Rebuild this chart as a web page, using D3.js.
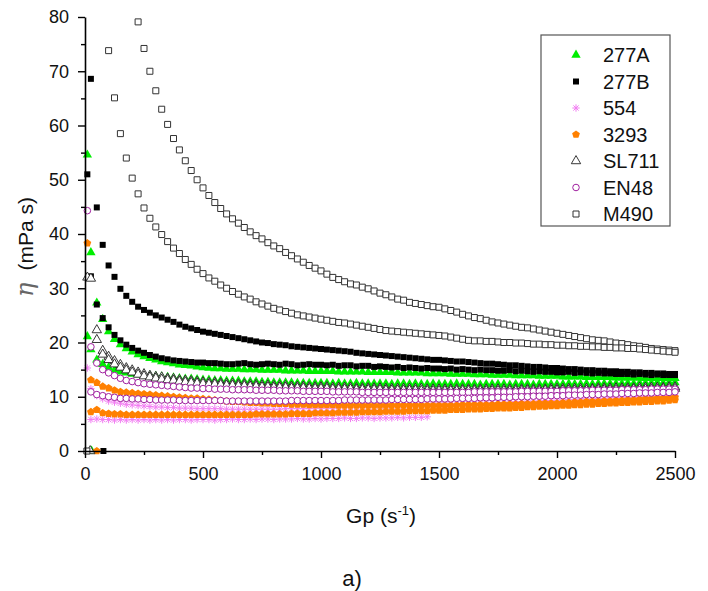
<!DOCTYPE html>
<html>
<head>
<meta charset="utf-8">
<script src="https://cdn.jsdelivr.net/npm/d3@7/dist/d3.min.js"></script>
<style>
  body { margin: 0; background: #fff; }
  svg { font-family: "Liberation Sans", Arial, sans-serif; }
</style>
</head>
<body>
<svg id="chart" width="708" height="591"></svg>
<script>
// shear rate grid Gp (s^-1), shared by every run
const gp = [10,
  25, 50, 75, 100, 125, 150, 175, 200, 225, 250,
  275, 300, 325, 350, 375, 400, 425, 450, 475, 500,
  525, 550, 575, 600, 625, 650, 675, 700, 725, 750,
  775, 800, 825, 850, 875, 900, 925, 950, 975, 1000,
  1025, 1050, 1075, 1100, 1125, 1150, 1175, 1200, 1225, 1250,
  1275, 1300, 1325, 1350, 1375, 1400, 1425, 1450, 1475, 1500,
  1525, 1550, 1575, 1600, 1625, 1650, 1675, 1700, 1725, 1750,
  1775, 1800, 1825, 1850, 1875, 1900, 1925, 1950, 1975, 2000,
  2025, 2050, 2075, 2100, 2125, 2150, 2175, 2200, 2225, 2250,
  2275, 2300, 2325, 2350, 2375, 2400, 2425, 2450, 2475, 2500];

// viscosity eta (mPa s), two runs per sample
const eta277A_1 = [54.6,
  36.6, 27.3, 24.3, 22.0, 20.6, 19.6, 18.9, 18.3, 17.8, 17.4,
  17.1, 16.8, 16.5, 16.3, 16.1, 15.9, 15.8, 15.7, 15.5, 15.4,
  15.3, 15.2, 15.2, 15.1, 15.1, 15.1, 15.0, 15.0, 15.0, 14.9,
  14.9, 14.9, 14.9, 14.8, 14.8, 14.8, 14.8, 14.7, 14.7, 14.7,
  14.7, 14.7, 14.6, 14.6, 14.6, 14.6, 14.6, 14.5, 14.5, 14.5,
  14.5, 14.5, 14.4, 14.4, 14.4, 14.4, 14.4, 14.3, 14.3, 14.3,
  14.3, 14.2, 14.2, 14.2, 14.2, 14.1, 14.1, 14.1, 14.0, 14.0,
  14.0, 14.0, 13.9, 13.9, 13.9, 13.9, 13.8, 13.8, 13.8, 13.8,
  13.7, 13.7, 13.7, 13.7, 13.6, 13.6, 13.6, 13.6, 13.6, 13.5,
  13.5, 13.5, 13.5, 13.5, 13.4, 13.4, 13.4, 13.4, 13.4, 13.4];
const eta277A_2 = [21.1,
  18.7, 16.8, 16.0, 15.4, 14.9, 14.6, 14.4, 14.2, 14.1, 14.0,
  13.9, 13.8, 13.7, 13.6, 13.5, 13.4, 13.3, 13.3, 13.2, 13.1,
  13.1, 13.0, 13.0, 12.9, 12.9, 12.9, 12.8, 12.8, 12.8, 12.7,
  12.7, 12.6, 12.6, 12.6, 12.6, 12.5, 12.5, 12.5, 12.5, 12.5,
  12.5, 12.4, 12.5, 12.4, 12.4, 12.5, 12.4, 12.4, 12.4, 12.4,
  12.4, 12.3, 12.4, 12.4, 12.3, 12.4, 12.3, 12.3, 12.4, 12.3,
  12.3, 12.3, 12.4, 12.3, 12.3, 12.3, 12.2, 12.3, 12.3, 12.3,
  12.3, 12.2, 12.3, 12.3, 12.3, 12.2, 12.3, 12.3, 12.3, 12.3,
  12.3, 12.4, 12.3, 12.3, 12.4, 12.3, 12.4, 12.4, 12.4, 12.4,
  12.4, 12.5, 12.4, 12.5, 12.5, 12.5, 12.6, 12.5, 12.6, 12.6];

const eta277B_1 = [null,
  68.6, 44.9, 38.0, 34.2, 32.1, 29.9, 28.6, 27.5, 26.6, 26.0,
  25.5, 25.0, 24.6, 24.2, 23.8, 23.3, 22.9, 22.6, 22.3, 22.0,
  21.8, 21.6, 21.4, 21.2, 21.0, 20.8, 20.6, 20.4, 20.2, 20.0,
  19.9, 19.7, 19.6, 19.5, 19.3, 19.2, 19.1, 19.0, 18.9, 18.8,
  18.7, 18.6, 18.5, 18.4, 18.3, 18.1, 18.0, 17.9, 17.8, 17.7,
  17.6, 17.5, 17.4, 17.3, 17.2, 17.1, 17.0, 16.9, 16.8, 16.8,
  16.7, 16.6, 16.5, 16.5, 16.4, 16.3, 16.2, 16.1, 16.1, 16.0,
  15.9, 15.8, 15.8, 15.7, 15.6, 15.5, 15.5, 15.4, 15.3, 15.3,
  15.2, 15.1, 15.1, 15.0, 14.9, 14.9, 14.8, 14.8, 14.7, 14.7,
  14.6, 14.6, 14.5, 14.5, 14.4, 14.4, 14.3, 14.3, 14.2, 14.2];
const eta277B_2 = [51.0,
  32.2, 27.0, 24.5, 22.8, 21.4, 20.4, 19.6, 19.0, 18.5, 18.1,
  17.7, 17.4, 17.1, 16.9, 16.7, 16.6, 16.5, 16.4, 16.3, 16.3,
  16.2, 16.2, 16.1, 16.0, 16.0, 16.1, 16.2, 16.0, 15.9, 16.0,
  16.1, 16.0, 15.9, 16.1, 16.0, 15.8, 15.9, 16.0, 15.9, 15.9,
  15.8, 15.9, 15.7, 15.8, 15.8, 15.6, 15.7, 15.7, 15.5, 15.6,
  15.5, 15.4, 15.5, 15.3, 15.4, 15.3, 15.2, 15.3, 15.2, 15.2,
  15.1, 15.2, 15.0, 15.1, 15.0, 14.9, 15.0, 14.9, 14.9, 14.8,
  14.8, 14.9, 14.7, 14.8, 14.7, 14.6, 14.7, 14.6, 14.6, 14.5,
  14.5, 14.6, 14.4, 14.5, 14.4, 14.3, 14.4, 14.3, 14.3, 14.2,
  14.2, 14.2, 14.1, 14.2, 14.1, 14.0, 14.1, 14.0, 14.0, 14.0];

const eta554_1 = [15.3,
  11.5, 10.2, 9.6, 9.2, 9.0, 8.8, 8.6, 8.5, 8.4, 8.3,
  8.2, 8.1, 8.1, 8.0, 8.0, 7.9, 7.9, 7.9, 7.8, 7.8,
  7.8, 7.8, 7.8, 7.7, 7.7, 7.7, 7.7, 7.7, 7.7, 7.7,
  7.7, 7.7, 7.7, 7.8, 7.8, 7.8, 7.8, 7.8, 7.9, 7.9,
  7.9, 7.9, 8.0, 8.0, 8.0, 8.0, 8.1, 8.1, 8.1, 8.2,
  8.2, 8.2, 8.3, 8.3, 8.3, 8.4, 8.4, 8.4, 8.5, 8.5,
  8.5, 8.6, 8.6, 8.7, 8.7, 8.7, 8.8, 8.8, 8.9, 8.9,
  9.0, 9.0, 9.1, 9.1, 9.2, 9.2, 9.2, 9.3, 9.3, 9.4,
  9.4, 9.5, 9.5, 9.6, 9.6, 9.6, 9.7, 9.7, 9.8, 9.8,
  9.9, 9.9, 9.9, 10.0, 10.0, 10.1, 10.1, 10.1, 10.2, 10.2];
const eta554_2 = [null,
  5.8, 5.9, 5.8, 5.8, 5.7, 5.8, 5.7, 5.8, 5.7, 5.8,
  5.7, 5.8, 5.7, 5.8, 5.7, 5.8, 5.8, 5.7, 5.8, 5.8,
  5.8, 5.7, 5.8, 5.8, 5.9, 5.8, 5.8, 5.9, 5.8, 5.9,
  5.9, 5.8, 5.9, 5.9, 5.9, 6.0, 5.9, 5.9, 6.0, 5.9,
  6.0, 6.0, 6.0, 6.1, 6.0, 6.0, 6.1, 6.1, 6.0, 6.1,
  6.1, 6.1, 6.2, 6.1, 6.2, 6.2, 6.2, 6.3, null, null,
  null, null, null, null, null, null, null, null, null, null,
  null, null, null, null, null, null, null, null, null, null,
  null, null, null, null, null, null, null, null, null, null,
  null, null, null, null, null, null, null, null, null, null];

const eta3293_1 = [38.3,
  13.1, 12.6, 11.9, 11.6, 11.2, 10.9, 10.8, 10.7, 10.6, 10.5,
  10.4, 10.3, 10.2, 10.1, 10.0, 9.9, 9.8, 9.7, 9.7, 9.6,
  9.5, 9.4, 9.3, 9.2, 9.1, 9.1, 9.0, 8.9, 8.9, 8.8,
  8.8, 8.7, 8.7, 8.7, 8.6, 8.6, 8.6, 8.5, 8.5, 8.5,
  8.5, 8.5, 8.4, 8.4, 8.4, 8.4, 8.4, 8.4, 8.4, 8.4,
  8.4, 8.4, 8.4, 8.4, 8.4, 8.4, 8.4, 8.4, 8.4, 8.4,
  8.4, 8.4, 8.4, 8.5, 8.5, 8.5, 8.5, 8.5, 8.5, 8.6,
  8.6, 8.6, 8.6, 8.7, 8.7, 8.7, 8.8, 8.8, 8.8, 8.8,
  8.9, 8.9, 9.0, 9.0, 9.1, 9.1, 9.1, 9.2, 9.2, 9.3,
  9.3, 9.4, 9.4, 9.5, 9.6, 9.6, 9.7, 9.7, 9.8, 9.9];
const eta3293_2 = [null,
  7.2, 7.6, 7.0, 6.9, 6.8, 6.8, 6.7, 6.7, 6.7, 6.7,
  6.7, 6.7, 6.7, 6.7, 6.7, 6.7, 6.7, 6.7, 6.7, 6.7,
  6.7, 6.7, 6.7, 6.7, 6.7, 6.7, 6.7, 6.7, 6.8, 6.8,
  6.8, 6.8, 6.8, 6.8, 6.9, 6.9, 6.9, 6.9, 7.0, 7.0,
  7.0, 7.0, 7.1, 7.1, 7.1, 7.1, 7.2, 7.2, 7.2, 7.2,
  7.3, 7.3, 7.3, 7.3, 7.4, 7.4, 7.4, 7.4, 7.5, 7.5,
  7.5, 7.6, 7.6, 7.6, 7.7, 7.7, 7.7, 7.8, 7.8, 7.9,
  7.9, 7.9, 8.0, 8.0, 8.1, 8.1, 8.2, 8.2, 8.3, 8.3,
  8.4, 8.4, 8.5, 8.5, 8.6, 8.6, 8.7, 8.7, 8.8, 8.8,
  8.9, 8.9, 9.0, 9.0, 9.1, 9.1, 9.2, 9.2, 9.3, 9.4];

const etaSL711_1 = [32.0,
  null, 22.3, 18.5, 17.4, 16.6, 15.9, 15.3, 14.9, 14.5, 14.2,
  13.9, 13.7, 13.6, 13.4, 13.3, 13.1, 13.0, 12.9, 12.8, 12.7,
  12.6, 12.6, 12.5, 12.4, 12.4, 12.3, 12.3, 12.2, 12.2, 12.1,
  12.1, 12.0, 12.0, 12.0, 11.9, 11.9, 11.9, 11.8, 11.8, 11.8,
  11.8, 11.7, 11.7, 11.7, 11.7, 11.6, 11.6, 11.6, 11.6, 11.6,
  11.5, 11.5, 11.5, 11.5, 11.5, 11.5, 11.5, 11.4, 11.4, 11.4,
  11.4, 11.4, 11.4, 11.4, 11.4, 11.4, 11.4, 11.4, 11.4, 11.4,
  11.4, 11.4, 11.4, 11.4, 11.4, 11.4, 11.4, 11.4, 11.5, 11.5,
  11.5, 11.5, 11.5, 11.5, 11.5, 11.5, 11.6, 11.6, 11.6, 11.6,
  11.6, 11.6, 11.6, 11.7, 11.7, 11.7, 11.7, 11.7, 11.8, 11.8];
const etaSL711_2 = [null,
  31.8, 20.5, 17.8, 16.8, 16.0, 15.4, 14.9, 14.5, 14.1, 13.8,
  13.6, 13.4, 13.2, 13.1, 13.0, 12.8, 12.7, 12.6, 12.5, 12.4,
  12.3, 12.3, 12.2, 12.1, 12.1, 12.0, 12.0, 11.9, 11.9, 11.8,
  11.8, 11.7, 11.7, 11.7, 11.6, 11.6, 11.6, 11.5, 11.5, 11.5,
  11.5, 11.4, 11.4, 11.4, 11.4, 11.3, 11.3, 11.3, 11.3, 11.3,
  11.2, 11.2, 11.2, 11.2, 11.2, 11.2, 11.1, 11.1, 11.1, 11.1,
  11.1, 11.1, 11.1, 11.1, 11.1, 11.1, 11.1, 11.1, 11.1, 11.1,
  11.1, 11.1, 11.1, 11.1, 11.1, 11.1, 11.1, 11.2, 11.2, 11.2,
  11.2, 11.2, 11.2, 11.2, 11.2, 11.3, 11.3, 11.3, 11.3, 11.3,
  11.3, 11.3, 11.4, 11.4, 11.4, 11.4, 11.4, 11.5, 11.5, 11.5];

const etaEN48_1 = [44.3,
  19.2, 16.2, 15.0, 14.4, 13.9, 13.4, 13.0, 12.8, 12.6, 12.4,
  12.3, 12.2, 12.1, 12.0, 11.9, 11.8, 11.7, 11.6, 11.6, 11.5,
  11.5, 11.4, 11.4, 11.4, 11.3, 11.3, 11.3, 11.3, 11.2, 11.2,
  11.2, 11.2, 11.1, 11.1, 11.1, 11.1, 11.0, 11.0, 11.0, 11.0,
  11.0, 10.9, 10.9, 10.9, 10.9, 10.9, 10.8, 10.8, 10.8, 10.8,
  10.8, 10.8, 10.8, 10.8, 10.8, 10.8, 10.8, 10.8, 10.8, 10.8,
  10.8, 10.8, 10.8, 10.8, 10.8, 10.9, 10.9, 10.9, 10.9, 10.9,
  10.9, 10.9, 10.9, 11.0, 11.0, 11.0, 11.0, 11.0, 11.0, 11.0,
  11.1, 11.1, 11.1, 11.1, 11.1, 11.2, 11.2, 11.2, 11.2, 11.2,
  11.3, 11.3, 11.3, 11.3, 11.3, 11.4, 11.4, 11.4, 11.4, 11.4];
const etaEN48_2 = [null,
  10.9, 10.4, 10.2, 10.0, 9.9, 9.7, 9.7, 9.6, 9.6, 9.5,
  9.5, 9.4, 9.4, 9.4, 9.4, 9.3, 9.3, 9.3, 9.3, 9.3,
  9.3, 9.3, 9.3, 9.2, 9.2, 9.2, 9.2, 9.2, 9.2, 9.2,
  9.2, 9.2, 9.2, 9.2, 9.3, 9.3, 9.3, 9.3, 9.3, 9.3,
  9.3, 9.3, 9.3, 9.4, 9.4, 9.4, 9.4, 9.4, 9.4, 9.4,
  9.4, 9.5, 9.5, 9.5, 9.5, 9.5, 9.5, 9.6, 9.6, 9.6,
  9.6, 9.6, 9.7, 9.7, 9.7, 9.7, 9.8, 9.8, 9.8, 9.9,
  9.9, 9.9, 10.0, 10.0, 10.0, 10.1, 10.1, 10.1, 10.2, 10.2,
  10.2, 10.3, 10.3, 10.3, 10.4, 10.4, 10.4, 10.5, 10.5, 10.5,
  10.6, 10.6, 10.6, 10.7, 10.7, 10.7, 10.8, 10.8, 10.8, 10.9];

const etaM490_1 = [null,
  null, null, null, null, null, null, null, null, 79.1, 74.2,
  70.0, 66.4, 63.0, 60.2, 57.6, 55.5, 53.5, 51.7, 50.0, 48.5,
  47.1, 45.8, 44.7, 43.7, 42.8, 42.0, 41.2, 40.4, 39.7, 39.1,
  38.4, 37.8, 37.3, 36.6, 36.0, 35.4, 34.8, 34.2, 33.7, 33.2,
  32.6, 32.0, 31.6, 31.2, 30.8, 30.6, 30.2, 29.9, 29.5, 29.1,
  28.8, 28.4, 28.0, 27.8, 27.4, 27.2, 27.0, 26.8, 26.6, 26.5,
  26.2, 25.9, 25.6, 25.2, 24.9, 24.6, 24.4, 24.1, 23.8, 23.6,
  23.4, 23.2, 23.0, 22.8, 22.7, 22.5, 22.3, 22.1, 21.9, 21.7,
  21.5, 21.3, 21.1, 20.9, 20.7, 20.5, 20.4, 20.3, 20.1, 19.9,
  19.8, 19.6, 19.4, 19.3, 19.1, 18.9, 18.8, 18.7, 18.6, 18.5];
const etaM490_2 = [null,
  null, null, null, 73.8, 65.1, 58.5, 54.0, 50.3, 47.4, 44.8,
  42.9, 41.3, 39.9, 38.6, 37.4, 36.4, 35.3, 34.4, 33.5, 32.7,
  31.9, 31.3, 30.6, 30.0, 29.4, 28.9, 28.4, 28.0, 27.5, 27.1,
  26.7, 26.3, 26.0, 25.7, 25.4, 25.1, 24.9, 24.7, 24.5, 24.3,
  24.1, 23.9, 23.7, 23.6, 23.4, 23.2, 23.0, 22.8, 22.6, 22.4,
  22.2, 22.1, 22.0, 21.9, 21.8, 21.7, 21.6, 21.5, 21.4, 21.3,
  21.2, 21.0, 20.8, 20.6, 20.4, 20.3, 20.3, 20.2, 20.2, 20.1,
  20.0, 20.0, 19.9, 19.9, 19.8, 19.7, 19.7, 19.6, 19.6, 19.5,
  19.5, 19.4, 19.4, 19.3, 19.3, 19.2, 19.2, 19.1, 19.1, 19.0,
  19.0, 18.9, 18.9, 18.8, 18.7, 18.6, 18.5, 18.4, 18.3, 18.2];

// single zero readings at the lowest shear rates
const zeroGp = [8, 22, 28, 50, 78];
const zeroEta = [0, 0, 0, 0, 0];
const zeroSample = ['M490', 'SL711', '277A', '3293', '277B'];

const samples = ['277A', '277B', '554', '3293', 'SL711', 'EN48', 'M490'];
const runs = {
  '277A': [eta277A_1, eta277A_2],
  '277B': [eta277B_1, eta277B_2],
  '554': [eta554_1, eta554_2],
  '3293': [eta3293_1, eta3293_2],
  'SL711': [etaSL711_1, etaSL711_2],
  'EN48': [etaEN48_1, etaEN48_2],
  'M490': [etaM490_1, etaM490_2]
};

const xTicks = [0, 500, 1000, 1500, 2000, 2500];
const xMinor = [250, 750, 1250, 1750, 2250];
const yTicks = [0, 10, 20, 30, 40, 50, 60, 70, 80];
const yMinor = [5, 15, 25, 35, 45, 55, 65, 75];

// marker styles
const style = {
  '277A': { shape: 'triangle', fill: '#00ee00', stroke: 'none', sw: 0 },
  '277B': { shape: 'square', fill: '#000', stroke: 'none', sw: 0 },
  '554': { shape: 'asterisk', fill: 'none', stroke: '#f27ef2', sw: 1 },
  '3293': { shape: 'pentagon', fill: '#ff8000', stroke: 'none', sw: 0 },
  'SL711': { shape: 'triangle', fill: '#fff', stroke: '#222', sw: 0.9 },
  'EN48': { shape: 'circle', fill: '#fff', stroke: '#a0209f', sw: 1 },
  'M490': { shape: 'square', fill: '#fff', stroke: '#333', sw: 1 }
};

function markerPath(shape) {
  if (shape === 'triangle') return d3.symbol(d3.symbolTriangle, 38)();
  if (shape === 'square') return d3.symbol(d3.symbolSquare, 36)();
  if (shape === 'circle') return d3.symbol(d3.symbolCircle, 34)();
  if (shape === 'pentagon') {
    const r = 4.1;
    const p = d3.range(5).map(k => {
      const a = -Math.PI / 2 + k * 2 * Math.PI / 5;
      return [r * Math.cos(a), r * Math.sin(a)];
    });
    return 'M' + p.join('L') + 'Z';
  }
  // asterisk
  const r = 3.7, d = r * 0.707;
  return `M${-r},0L${r},0M0,${-r}L0,${r}M${-d},${-d}L${d},${d}M${-d},${d}L${d},${-d}`;
}

const svg = d3.select('#chart');
const x = d3.scaleLinear().domain([0, 2500]).range([85, 675]);
const y = d3.scaleLinear().domain([0, 80]).range([451, 17]);

// data
const plot = svg.append('g');
samples.forEach(name => {
  const st = style[name];
  const path = markerPath(st.shape);
  const g = plot.append('g');
  runs[name].forEach(run => {
    const pts = gp.map((v, i) => [v, run[i]]).filter(d => d[1] != null);
    g.selectAll(null).data(pts).enter().append('path')
      .attr('d', path)
      .attr('transform', d => `translate(${x(d[0])},${y(d[1])})`)
      .attr('fill', st.fill)
      .attr('stroke', st.stroke)
      .attr('stroke-width', st.sw);
  });
  zeroSample.forEach((s, i) => {
    if (s !== name) return;
    g.append('path')
      .attr('d', path)
      .attr('transform', `translate(${x(zeroGp[i])},${y(zeroEta[i])})`)
      .attr('fill', st.fill)
      .attr('stroke', st.stroke)
      .attr('stroke-width', st.sw);
  });
});

// axes
svg.append('g').attr('transform', 'translate(0,451)')
  .call(d3.axisBottom(x).tickValues(xMinor).tickSize(4).tickFormat(''))
  .call(g => g.select('.domain').remove());
svg.append('g').attr('transform', 'translate(85,0)')
  .call(d3.axisLeft(y).tickValues(yMinor).tickSize(4).tickFormat(''))
  .call(g => g.select('.domain').remove());
svg.append('g').attr('transform', 'translate(0,451)')
  .call(d3.axisBottom(x).tickValues(xTicks).tickSize(7).tickSizeOuter(0).tickPadding(9)
    .tickFormat(d3.format('d')));
svg.append('g').attr('transform', 'translate(85,0)')
  .call(d3.axisLeft(y).tickValues(yTicks).tickSize(7).tickSizeOuter(0).tickPadding(9));
svg.selectAll('.domain').attr('stroke', '#000').attr('stroke-width', 1.6);
svg.selectAll('.tick line').attr('stroke', '#000').attr('stroke-width', 1.4);
svg.selectAll('.tick text').attr('font-size', 18).attr('fill', '#111')
  .attr('font-family', '"Liberation Sans", Arial, sans-serif');

// axis titles
svg.append('text').attr('x', 381).attr('y', 523).attr('text-anchor', 'middle')
  .attr('font-size', 21).attr('fill', '#111')
  .html('Gp (s<tspan dy="-8" font-size="13">-1</tspan><tspan dy="8">)</tspan>');
const yt = svg.append('text').attr('transform', 'translate(33,247) rotate(-90)')
  .attr('text-anchor', 'middle').attr('font-size', 21).attr('fill', '#111');
yt.append('tspan').attr('font-family', '"DejaVu Serif", serif').attr('font-style', 'italic')
  .attr('font-size', 24).attr('fill', '#666').text('η');
yt.append('tspan').attr('dx', 12).text('(mPa s)');

svg.append('text').attr('x', 352).attr('y', 586).attr('text-anchor', 'middle')
  .attr('font-size', 22).attr('fill', '#111').text('a)');

// legend
const lg = svg.append('g');
lg.append('rect').attr('x', 541).attr('y', 35).attr('width', 129).attr('height', 191)
  .attr('fill', '#fff').attr('stroke', '#555').attr('stroke-width', 1.2);
samples.forEach((name, i) => {
  const st = style[name];
  const cy = 55 + i * 26.5;
  lg.append('path').attr('d', markerPath(st.shape))
    .attr('transform', `translate(576,${cy})`)
    .attr('fill', st.fill).attr('stroke', st.stroke).attr('stroke-width', st.sw);
  lg.append('text').attr('x', 603).attr('y', cy + 7).attr('font-size', 20)
    .attr('fill', '#111').text(name);
});
</script>
</body>
</html>
